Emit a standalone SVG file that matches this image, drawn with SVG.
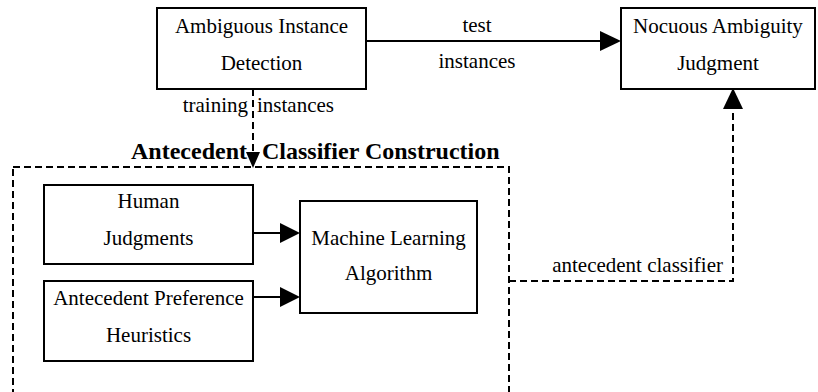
<svg xmlns="http://www.w3.org/2000/svg" width="818" height="392" viewBox="0 0 818 392">
<style>
text{font-family:'Liberation Serif','DejaVu Serif',serif}
.box{fill:#fff;stroke:#000;stroke-width:2}
.t{font-size:21px;fill:#000;text-anchor:middle}
.ts{font-size:21px;fill:#000}
.title{font-size:24px;font-weight:bold;fill:#000}
.solid{stroke:#000;stroke-width:2;fill:none}
.dash{stroke:#000;stroke-width:2;fill:none;stroke-dasharray:7 4}
.head{fill:#000;stroke:none}
</style>
<rect width="818" height="392" fill="#fff"/>
<g id="container">
<rect x="13" y="167" width="496" height="240" class="dash"/>
</g>
<g id="connectors">
<line x1="366" y1="41" x2="601" y2="41" class="solid"/>
<polygon points="600,31 621,41 600,51" class="head"/>
<text class="t" x="477" y="32">test</text>
<text class="t" x="477" y="68">instances</text>
<line x1="253" y1="89" x2="253" y2="154" class="dash"/>
<polygon points="246,152 260,152 253,168" class="head"/>
<text class="ts" x="248" y="112" text-anchor="end">training</text>
<text class="ts" x="257" y="112">instances</text>
<line x1="253" y1="233" x2="281" y2="233" class="solid"/>
<polygon points="280,223 300,233 280,243" class="head"/>
<line x1="253" y1="297" x2="281" y2="297" class="solid"/>
<polygon points="280,287 300,297 280,307" class="head"/>
<polyline points="509,281 733,281 733,108" class="dash"/>
<polygon points="723,109 733,88 743,109" class="head"/>
<text class="ts" x="723" y="272" text-anchor="end">antecedent classifier</text>
</g>
<g id="title">
<text class="title" x="131" y="159">Antecedent <tspan x="262">Classifier Construction</tspan></text>
</g>
<g id="ambiguous-instance-detection">
<rect x="157" y="8" width="209" height="81" class="box"/>
<text class="t" x="261.5" y="33">Ambiguous Instance</text>
<text class="t" x="261.5" y="70">Detection</text>
</g>
<g id="nocuous-ambiguity-judgment">
<rect x="621" y="8" width="194" height="81" class="box"/>
<text class="t" x="718" y="33">Nocuous Ambiguity</text>
<text class="t" x="718" y="70">Judgment</text>
</g>
<g id="human-judgments">
<rect x="44" y="185" width="209" height="79" class="box"/>
<text class="t" x="148.5" y="208">Human</text>
<text class="t" x="148.5" y="245">Judgments</text>
</g>
<g id="antecedent-preference-heuristics">
<rect x="44" y="281" width="209" height="80" class="box"/>
<text class="t" x="148.5" y="305">Antecedent Preference</text>
<text class="t" x="148.5" y="342">Heuristics</text>
</g>
<g id="machine-learning-algorithm">
<rect x="300" y="201" width="177" height="112" class="box"/>
<text class="t" x="388.5" y="245">Machine Learning</text>
<text class="t" x="388.5" y="280">Algorithm</text>
</g>
</svg>
